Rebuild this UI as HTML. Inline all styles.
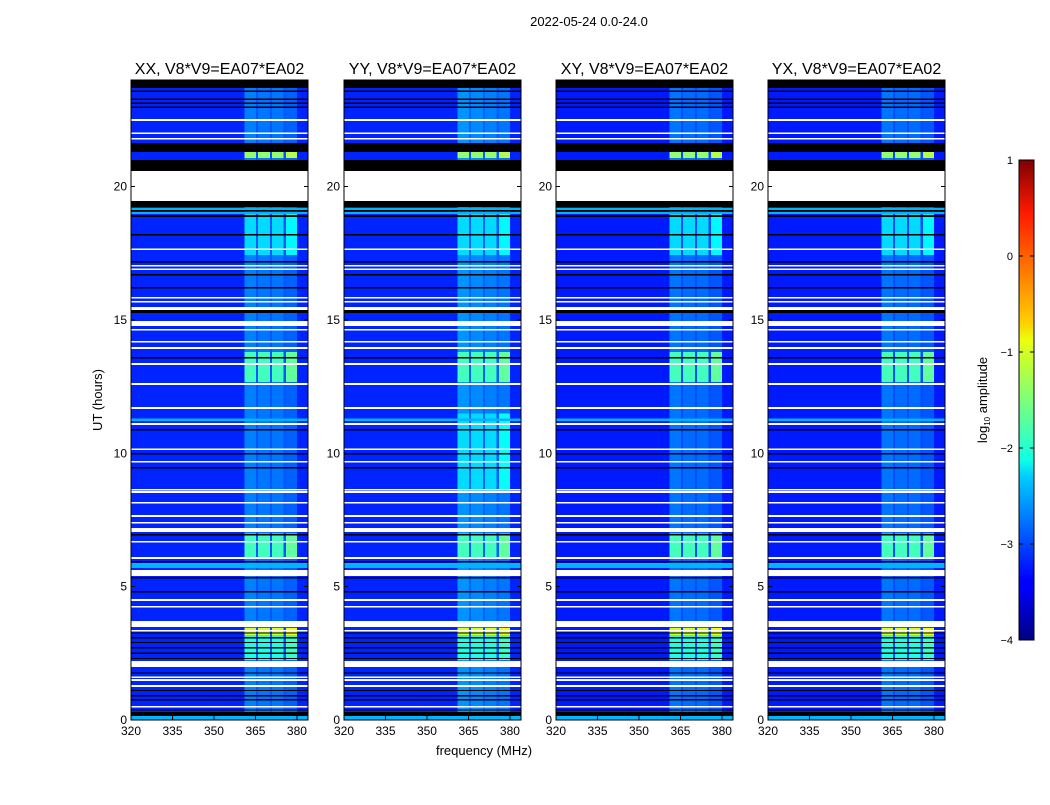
<!DOCTYPE html>
<html><head><meta charset="utf-8"><style>
body{margin:0;background:#fff;width:1050px;height:800px;overflow:hidden}
svg text{font-family:"Liberation Sans",sans-serif;fill:#000}
</style></head><body>
<svg id="fig" width="1050" height="800" xmlns="http://www.w3.org/2000/svg">
<defs><linearGradient id="jet" x1="0" y1="1" x2="0" y2="0">
<stop offset="0" stop-color="#000080"/><stop offset="0.11" stop-color="#0000ff"/><stop offset="0.125" stop-color="#0000ff"/>
<stop offset="0.34" stop-color="#00ccff"/><stop offset="0.375" stop-color="#10ffe6"/><stop offset="0.5" stop-color="#7dff7a"/>
<stop offset="0.625" stop-color="#ebff0c"/><stop offset="0.66" stop-color="#ffd000"/><stop offset="0.89" stop-color="#ff1a00"/><stop offset="1" stop-color="#800000"/>
</linearGradient></defs>
<text x="589" y="26" font-size="13" text-anchor="middle">2022-05-24 0.0-24.0</text>
<text transform="translate(102,400) rotate(-90)" font-size="13" text-anchor="middle">UT (hours)</text>
<text x="484" y="755" font-size="13" text-anchor="middle">frequency (MHz)</text>
<g id="panels"></g>
<g>
<rect x="1019" y="160" width="15" height="480" fill="url(#jet)" stroke="#000" stroke-width="1"/>
<g id="cbticks"></g>
<text transform="translate(987,400) rotate(-90)" font-size="13" text-anchor="middle">log<tspan font-size="8" dy="3">10</tspan><tspan dy="-3"> amplitude</tspan></text>
</g>
</svg>
<script>
const panelTitles=['XX, V8*V9=EA07*EA02','YY, V8*V9=EA07*EA02','XY, V8*V9=EA07*EA02','YX, V8*V9=EA07*EA02'];
const xTicks=[320,335,350,365,380];
const yTicks=[0,5,10,15,20];
const cbTicks=[1,0,-1,-2,-3,-4];
const cbLabels=['1','0','\u22121','\u22122','\u22123','\u22124'];
const baseLevel=[-3.2,-3.2,-3.25,-3.25];
const bandStart=[361,366,371,376];
const bandEnd=[365.2,370.2,375.2,380];
const bandLevel=[[-2.75,-2.8,-2.8,-2.9],[-2.65,-2.7,-2.75,-2.8],[-2.8,-2.85,-2.85,-2.95],[-2.8,-2.85,-2.85,-2.95]];
const gapLevel=[-2.95,-2.9,-3.0,-3.0];
const patchStart=[21.08,17.44,12.68,6.11,3.19,2.25];
const patchEnd=[21.3,19.0,13.8,7.0,3.45,3.19];
const patchLevel=[-1.4,-2.3,-1.8,-1.8,-1.1,-2.0];
const yyPatchStart=8.6, yyPatchEnd=11.5, yyPatchLevel=-2.3;
const cyanStart=[19.12,18.98,11.22,5.7,0.0];
const cyanEnd=[19.2,19.05,11.3,5.89,0.15];
const whiteStart=[22.47,21.98,21.76,19.46,17.63,17.0,16.88,15.8,15.65,15.38,14.78,14.6,14.15,13.92,13.32,12.57,11.67,11.07,10.13,9.65,8.6,8.52,8.11,7.62,7.36,7.05,6.65,6.04,5.4,4.47,4.21,3.49,3.31,1.99,1.58,1.47,1.24,0.46];
const whiteEnd=[22.53,22.04,21.82,20.59,17.69,17.06,16.94,15.86,15.71,15.49,14.96,14.66,14.21,13.98,13.38,12.63,11.73,11.13,10.19,9.71,8.66,8.58,8.17,7.68,7.42,7.2,6.71,6.11,5.63,4.53,4.27,3.71,3.37,2.21,1.64,1.53,1.31,0.52];
const blackStart=[23.7,23.55,23.25,23.1,22.95,21.3,20.59,19.24,19.08,18.86,18.17,17.16,16.67,16.18,15.26,13.56,10.86,9.96,9.43,6.92,5.91,5.31,4.78,3.24,3.06,2.88,2.68,2.48,2.28,1.74,1.08,0.88,0.73,0.35,0.15];
const blackEnd=[24.0,23.6,23.3,23.15,23.0,21.64,21.0,19.46,19.12,18.94,18.22,17.21,16.72,16.23,15.38,13.61,10.91,10.01,9.48,6.97,5.96,5.36,4.83,3.29,3.11,2.93,2.73,2.53,2.33,1.79,1.13,0.93,0.78,0.4,0.3];

const NS='http://www.w3.org/2000/svg';
const px0=[131,344,556,768], PW=177, PT=80, PB=720;
function jet(v){const t=Math.max(0,Math.min(1,(v+4)/5));const c=x=>Math.round(255*Math.max(0,Math.min(1,x)));
return `rgb(${c(1.5-Math.abs(4*t-3))},${c(1.5-Math.abs(4*t-2))},${c(1.5-Math.abs(4*t-1))})`;}
function mk(tag,attrs,parent){const e=document.createElementNS(NS,tag);for(const k in attrs)e.setAttribute(k,attrs[k]);parent.appendChild(e);return e;}
const panelsG=document.getElementById('panels');
panelTitles.forEach((title,p)=>{
  const x0=px0[p];
  const xs=f=>x0+(f-320)*PW/64;
  const ys=h=>PB-h*(PB-PT)/24;
  const g=mk('g',{'shape-rendering':'crispEdges'},panelsG);
  
  
  const bg=mk('rect',{x:x0,y:PT,width:PW,height:PB-PT,fill:jet(baseLevel[p])},g);
  
  
  const gp=mk('rect',{x:xs(bandStart[0]),y:PT,width:xs(bandEnd[3])-xs(bandStart[0]),height:PB-PT,fill:jet(gapLevel[p])},g);
  
  
  bandStart.forEach((fs,b)=>{
    const w=xs(bandEnd[b])-xs(fs);
    const r=mk('rect',{x:xs(fs),y:PT,width:w,height:PB-PT,fill:jet(bandLevel[p][b])},g);
    
    
    patchStart.forEach((ts,k)=>{
      const lv=patchLevel[k]+(b===3?0.15:0);
      const q=mk('rect',{x:xs(fs),y:ys(patchEnd[k]),width:w,height:ys(ts)-ys(patchEnd[k]),fill:jet(lv)},g);
      
      
    });
    if(p===1){
      const q=mk('rect',{x:xs(fs),y:ys(yyPatchEnd),width:w,height:ys(yyPatchStart)-ys(yyPatchEnd),fill:jet(yyPatchLevel+(b===3?0.2:0))},g);
      
      
    }
  });
  cyanStart.forEach((ts,k)=>{const r=mk('rect',{x:x0,y:ys(cyanEnd[k]),width:PW,height:Math.max(1,ys(ts)-ys(cyanEnd[k])),fill:jet(-2.5)},g);
    
    });
  whiteStart.forEach((ts,k)=>{const r=mk('rect',{x:x0,y:ys(whiteEnd[k]),width:PW,height:Math.max(1.5,ys(ts)-ys(whiteEnd[k])),fill:'#fff'},g);
    
    });
  blackStart.forEach((ts,k)=>{const r=mk('rect',{x:x0,y:ys(blackEnd[k]),width:PW,height:Math.max(1.2,ys(ts)-ys(blackEnd[k])),fill:'#000'},g);
    
    });
  const fr=mk('rect',{x:x0,y:PT,width:PW,height:PB-PT,fill:'none',stroke:'#000','stroke-width':1},g);
  
  
  const tt=mk('text',{x:x0+PW/2,y:74,'font-size':16,'text-anchor':'middle'},panelsG);
  tt.textContent=title;
  
  
  xTicks.forEach(f=>{const x=xs(f);
    mk('line',{x1:x,x2:x,y1:PB,y2:PB-4,stroke:'#000'},g);mk('line',{x1:x,x2:x,y1:PT,y2:PT+4,stroke:'#000'},g);
    const t=mk('text',{x:x,y:PB+15,'font-size':12,'text-anchor':'middle'},panelsG);t.textContent=f;
    
    });
  yTicks.forEach(h=>{const y=ys(h);
    mk('line',{x1:x0,x2:x0+4,y1:y,y2:y,stroke:'#000'},g);mk('line',{x1:x0+PW,x2:x0+PW-4,y1:y,y2:y,stroke:'#000'},g);
    const t=mk('text',{x:x0-4,y:y+4,'font-size':12,'text-anchor':'end'},panelsG);t.textContent=h;
    
    });
});
const cbg=document.getElementById('cbticks');
cbTicks.forEach((v,i)=>{const y=640-(v+4)*96;
  mk('line',{x1:1019,x2:1023,y1:y,y2:y,stroke:'#000'},cbg);mk('line',{x1:1030,x2:1034,y1:y,y2:y,stroke:'#000'},cbg);
  const t=mk('text',{x:1013,y:y+4,'font-size':11,'text-anchor':'end'},cbg);t.textContent=cbLabels[i];
  
  });
</script>
</body></html>
